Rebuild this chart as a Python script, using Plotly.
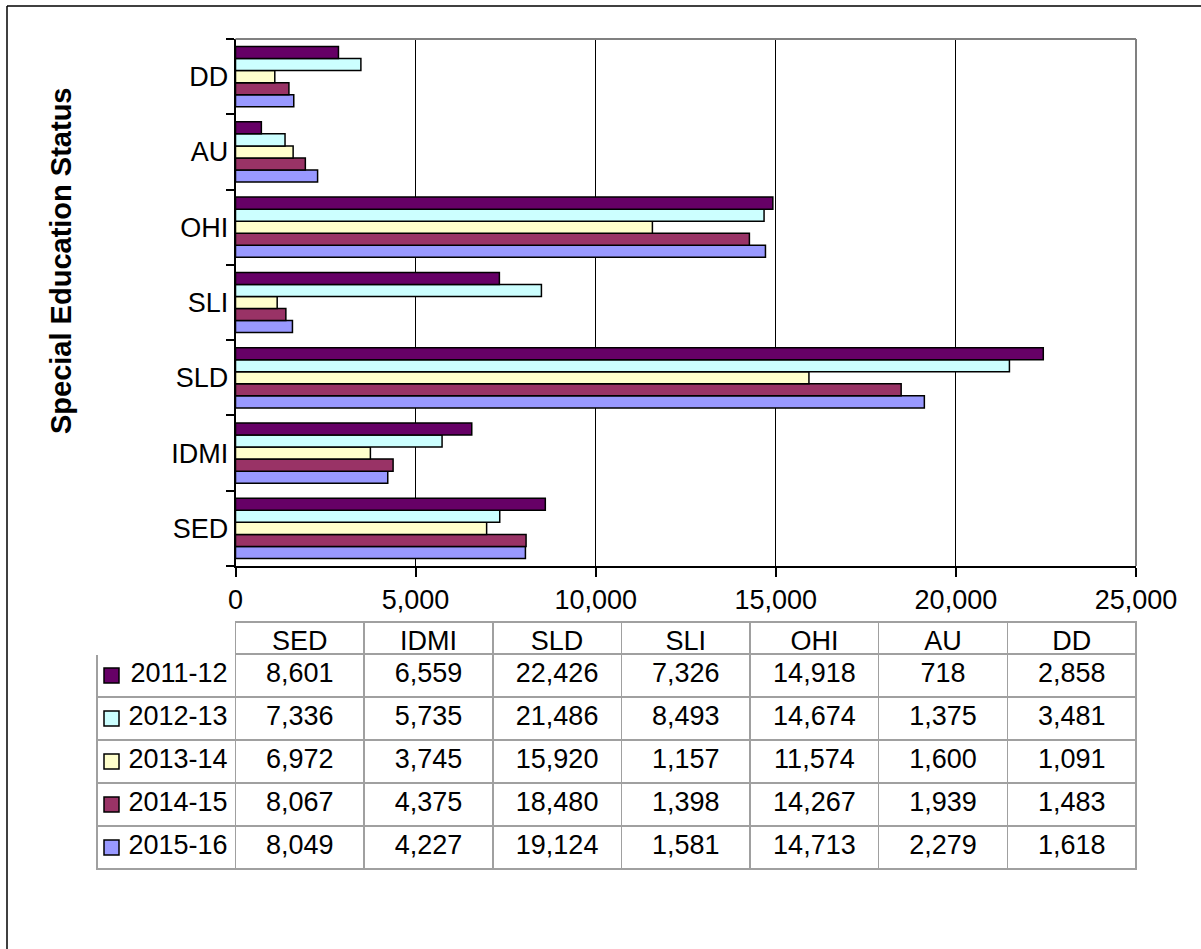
import plotly.graph_objects as go

# ---- data ----
categories = ["SED", "IDMI", "SLD", "SLI", "OHI", "AU", "DD"]
years = ["2011-12", "2012-13", "2013-14", "2014-15", "2015-16"]
v_2011_12 = [8601, 6559, 22426, 7326, 14918, 718, 2858]
v_2012_13 = [7336, 5735, 21486, 8493, 14674, 1375, 3481]
v_2013_14 = [6972, 3745, 15920, 1157, 11574, 1600, 1091]
v_2014_15 = [8067, 4375, 18480, 1398, 14267, 1939, 1483]
v_2015_16 = [8049, 4227, 19124, 1581, 14713, 2279, 1618]
series = [v_2011_12, v_2012_13, v_2013_14, v_2014_15, v_2015_16]
colors = ["#660066", "#CCFFFF", "#FFFFCC", "#993366", "#9999FF"]
x_ticks = [0, 5000, 10000, 15000, 20000, 25000]
axis_title = "Special Education Status"

W, H = 1201, 949
FONT = "Liberation Sans, Arial, sans-serif"
FS = 27

def px(x):
    return x / W

def py(y):
    return 1 - y / H

# plot area in pixels
PL, PR, PT, PB = 235.5, 1136, 39, 566
# table in pixels
TL, TT = 97, 622
HEAD_H, ROW_H = 32, 43
TB = TT + HEAD_H + ROW_H * len(years)

fig = go.Figure()

# bars: add in reverse so 2011-12 is on top of each group
for name, vals, col in reversed(list(zip(years, series, colors))):
    fig.add_trace(go.Bar(
        y=categories, x=vals, name=name, orientation="h",
        marker=dict(color=col, line=dict(color="black", width=1.5)),
        showlegend=False, xaxis="x", yaxis="y",
    ))

# table
header_vals = [""] + categories
cell_cols = [years] + [[f"{s[i]:,}" for s in series] for i in range(len(categories))]
col_w = [PL - TL] + [(PR - PL) / len(categories)] * len(categories)
fig.add_trace(go.Table(
    domain=dict(x=[px(TL), px(PR)], y=[py(TB + 2), py(TT)]),
    columnwidth=col_w,
    header=dict(
        values=header_vals, height=HEAD_H,
        align="center",
        font=dict(family=FONT, size=FS, color="black"),
        fill=dict(color="white"),
        line=dict(color=["white"] + ["#A0A0A0"] * len(categories), width=1.5),
    ),
    cells=dict(
        values=cell_cols, height=ROW_H,
        align=["right"] + ["center"] * len(categories),
        font=dict(family=FONT, size=FS, color="black"),
        fill=dict(color="white"),
        line=dict(color="#A0A0A0", width=1.5),
    ),
))

shapes = []
# legend keys inside the table's first column
for i, col in enumerate(colors):
    cy = TT + HEAD_H + ROW_H * (i + 0.5)
    shapes.append(dict(type="rect", xref="paper", yref="paper",
                       x0=px(104), x1=px(119), y0=py(cy + 7.5), y1=py(cy - 7.5),
                       fillcolor=col, line=dict(color="black", width=1.5), layer="above"))
# plot area top and right border (gray)
shapes.append(dict(type="line", xref="x domain", yref="y domain", x0=0, x1=1, y0=1, y1=1,
                   line=dict(color="#808080", width=2), layer="above"))
shapes.append(dict(type="line", xref="x domain", yref="y domain", x0=1, x1=1, y0=0, y1=1,
                   line=dict(color="#808080", width=2), layer="above"))
# outer chart border (top and left)
shapes.append(dict(type="line", xref="paper", yref="paper", x0=px(7), x1=1.0, y0=py(6), y1=py(6),
                   line=dict(color="black", width=1.5)))
shapes.append(dict(type="line", xref="paper", yref="paper", x0=px(7), x1=px(7), y0=py(6), y1=0,
                   line=dict(color="black", width=1.5)))

fig.update_layout(
    width=W, height=H, autosize=False,
    margin=dict(l=0, r=0, t=0, b=0, pad=0, autoexpand=False),
    paper_bgcolor="white", plot_bgcolor="white",
    barmode="group", bargap=0.2, bargroupgap=0,
    font=dict(family=FONT, size=FS, color="black"),
    xaxis=dict(
        domain=[px(PL), px(PR)], range=[0, 25000],
        tickvals=x_ticks, tickformat=",d", automargin=False,
        ticks="outside", ticklen=9, tickwidth=1.5, tickcolor="black",
        showgrid=True, gridcolor="black", gridwidth=1,
        showline=True, linecolor="black", linewidth=1.5,
        zeroline=False, tickfont=dict(family=FONT, size=FS, color="black"),
        fixedrange=True,
    ),
    yaxis=dict(
        domain=[py(PB), py(PT)], type="category", automargin=False,
        categoryorder="array", categoryarray=categories,
        tickson="boundaries", ticks="outside", ticklen=8, tickwidth=1.5, tickcolor="black",
        showgrid=False, showline=True, linecolor="black", linewidth=1.5,
        tickfont=dict(family=FONT, size=FS, color="black"),
        fixedrange=True,
    ),
    shapes=shapes,
    annotations=[dict(
        text=f"<b>{axis_title}</b>", textangle=-90, showarrow=False,
        xref="paper", yref="paper", x=px(61), y=py(261),
        xanchor="center", yanchor="middle",
        font=dict(family=FONT, size=29, color="black"),
    )],
)

fig.write_html(
    "out.html",
    config={"displayModeBar": False},
    post_script="document.body.style.margin='0px';document.body.style.overflow='hidden';",
)
